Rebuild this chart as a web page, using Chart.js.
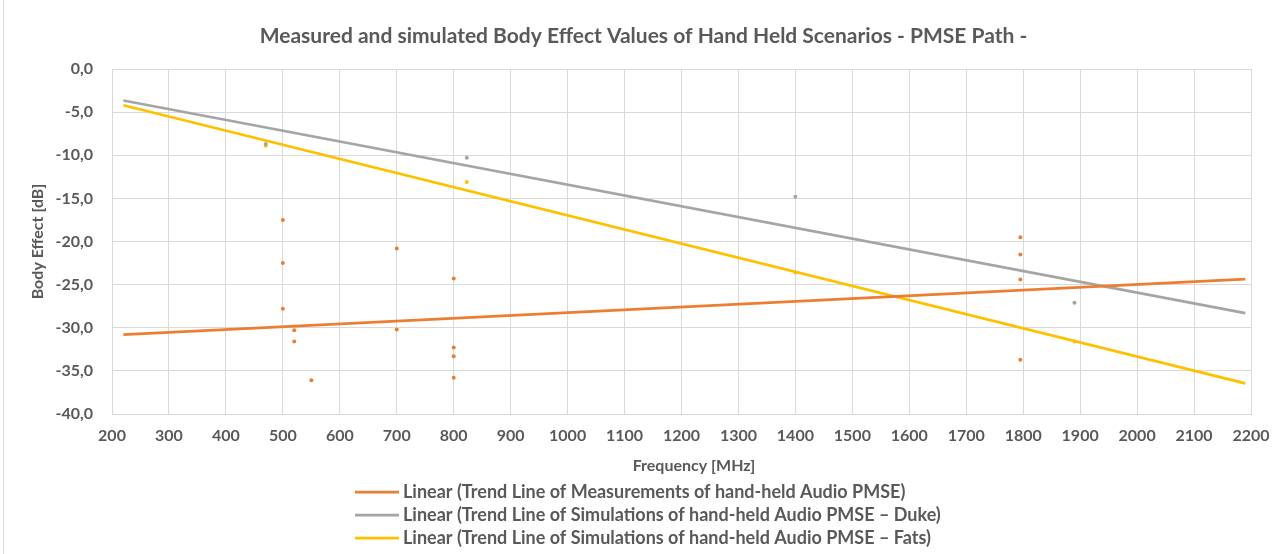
<!DOCTYPE html>
<html>
<head>
<meta charset="utf-8">
<title>Body Effect Values - PMSE Path</title>
<script src="https://cdn.jsdelivr.net/npm/chart.js@4.4.1/dist/chart.umd.min.js"></script>
<style>
  html, body { margin: 0; padding: 0; background: #ffffff; }
  #wrap { position: relative; width: 1287px; height: 554px; }
  canvas { display: block; }
</style>
</head>
<body>
<div id="wrap"><canvas id="chart" width="1287" height="554"></canvas></div>
<script>
// Measured body effect of hand-held audio PMSE
const measFreq = [500, 500, 500, 520, 520, 550, 700, 700, 800, 800, 800, 800, 1795, 1795, 1795, 1795];
const measBody = [-17.5, -22.5, -27.8, -30.3, -31.6, -36.1, -20.8, -30.2, -24.3, -32.3, -33.3, -35.8, -19.5, -21.5, -24.4, -33.7];

// Simulated body effect, phantom "Duke"
const dukeFreq = [470, 823, 1400, 1890];
const dukeBody = [-8.7, -10.3, -14.8, -27.1];

// Simulated body effect, phantom "Fats"
const fatsFreq = [470, 823, 1400, 1890];
const fatsBody = [-8.9, -13.1, -23.6, -31.6];

// Linear trend lines (start / end frequency and value)
const trendFreq = [220, 2190];
const trendMeas = [-30.8, -24.35];
const trendDuke = [-3.65, -28.3];
const trendFats = [-4.2, -36.45];

// Axis ticks
const xTicks = [200, 300, 400, 500, 600, 700, 800, 900, 1000, 1100, 1200, 1300, 1400, 1500, 1600, 1700, 1800, 1900, 2000, 2100, 2200];
const yTicks = [0, -5, -10, -15, -20, -25, -30, -35, -40];

const chartTitle = 'Measured and simulated Body Effect Values of Hand Held Scenarios - PMSE Path -';
const xTitle = 'Frequency [MHz]';
const yTitle = 'Body Effect [dB]';
const legendLabels = [
  'Linear (Trend Line of Measurements of hand-held Audio PMSE)',
  'Linear (Trend Line of Simulations of hand-held Audio PMSE \u2013 Duke)',
  'Linear (Trend Line of Simulations of hand-held Audio PMSE \u2013 Fats)'
];

const ORANGE = '#ED7D31';
const GREY = '#A5A5A5';
const GOLD = '#FFC000';
const TEXT = '#595959';
const GRID = '#D9D9D9';
const FONT = 'Lato, "Open Sans", sans-serif';

const toPoints = (xs, ys) => xs.map((x, i) => ({ x: x, y: ys[i] }));

const dotStyle = (color) => ({
  showLine: false,
  pointRadius: 2,
  pointHoverRadius: 2,
  pointBorderWidth: 0,
  pointBackgroundColor: color,
  backgroundColor: color,
  borderColor: color
});

const trendStyle = (color) => ({
  showLine: true,
  pointRadius: 0,
  borderWidth: 2.75,
  borderColor: color,
  backgroundColor: color,
  fill: false
});

// Page title, x-axis caption and the stacked legend of the trend lines
const annotations = {
  id: 'annotations',
  afterDraw(chart) {
    const ctx = chart.ctx;
    const colors = [ORANGE, GREY, GOLD];
    ctx.save();
    ctx.fillStyle = TEXT;
    ctx.textBaseline = 'middle';

    ctx.textAlign = 'center';
    ctx.font = 'bold 21px ' + FONT;
    ctx.fillText(chartTitle, chart.width / 2, 36);

    ctx.font = 'bold 16px ' + FONT;
    ctx.fillText(xTitle, 694, 466);

    ctx.textAlign = 'left';
    ctx.font = 'bold 18px ' + FONT;
    legendLabels.forEach((label, i) => {
      const y = 492 + i * 23;
      ctx.strokeStyle = colors[i];
      ctx.lineWidth = 2.75;
      ctx.beginPath();
      ctx.moveTo(355, y);
      ctx.lineTo(399, y);
      ctx.stroke();
      ctx.fillText(label, 403, y);
    });

    // outer frame of the chart
    ctx.strokeStyle = GRID;
    ctx.lineWidth = 1;
    ctx.beginPath();
    ctx.moveTo(3.5, 0);
    ctx.lineTo(3.5, 554);
    ctx.stroke();
    ctx.restore();
  }
};

new Chart(document.getElementById('chart'), {
  type: 'scatter',
  data: {
    datasets: [
      Object.assign({ label: 'Measurements', data: toPoints(measFreq, measBody), order: 2 }, dotStyle(ORANGE)),
      Object.assign({ label: 'Simulations Duke', data: toPoints(dukeFreq, dukeBody), order: 2 }, dotStyle(GREY)),
      Object.assign({ label: 'Simulations Fats', data: toPoints(fatsFreq, fatsBody), order: 2 }, dotStyle(GOLD)),
      Object.assign({ label: legendLabels[0], data: toPoints(trendFreq, trendMeas), order: 1 }, trendStyle(ORANGE)),
      Object.assign({ label: legendLabels[1], data: toPoints(trendFreq, trendDuke), order: 1 }, trendStyle(GREY)),
      Object.assign({ label: legendLabels[2], data: toPoints(trendFreq, trendFats), order: 1 }, trendStyle(GOLD))
    ]
  },
  options: {
    responsive: false,
    animation: false,
    events: [],
    layout: { padding: { top: 69, left: 0, right: 36, bottom: 70 } },
    plugins: {
      legend: { display: false },
      tooltip: { enabled: false },
      title: { display: false }
    },
    scales: {
      x: {
        type: 'linear',
        min: 200,
        max: 2200,
        afterBuildTicks(scale) { scale.ticks = xTicks.map(v => ({ value: v })); },
        afterFit(scale) { scale.height = 70; },
        grid: { color: GRID, lineWidth: 1, drawTicks: false },
        border: { color: GRID },
        ticks: {
          color: TEXT,
          padding: 12,
          maxRotation: 0,
          autoSkip: false,
          font: { family: FONT, size: 16, weight: 'bold' },
          callback: (v) => String(v)
        }
      },
      y: {
        type: 'linear',
        min: -40,
        max: 0,
        afterBuildTicks(scale) { scale.ticks = yTicks.map(v => ({ value: v })); },
        afterFit(scale) { scale.width = 112; },
        grid: { color: GRID, lineWidth: 1, drawTicks: false },
        border: { color: GRID },
        ticks: {
          color: TEXT,
          padding: 19,
          font: { family: FONT, size: 16, weight: 'bold' },
          callback: (v) => v.toFixed(1).replace('.', ',')
        },
        title: {
          display: true,
          text: yTitle,
          color: TEXT,
          font: { family: FONT, size: 16, weight: 'bold', lineHeight: 1.2 },
          padding: { top: 28, bottom: 0 }
        }
      }
    }
  },
  plugins: [annotations]
});
</script>
</body>
</html>
